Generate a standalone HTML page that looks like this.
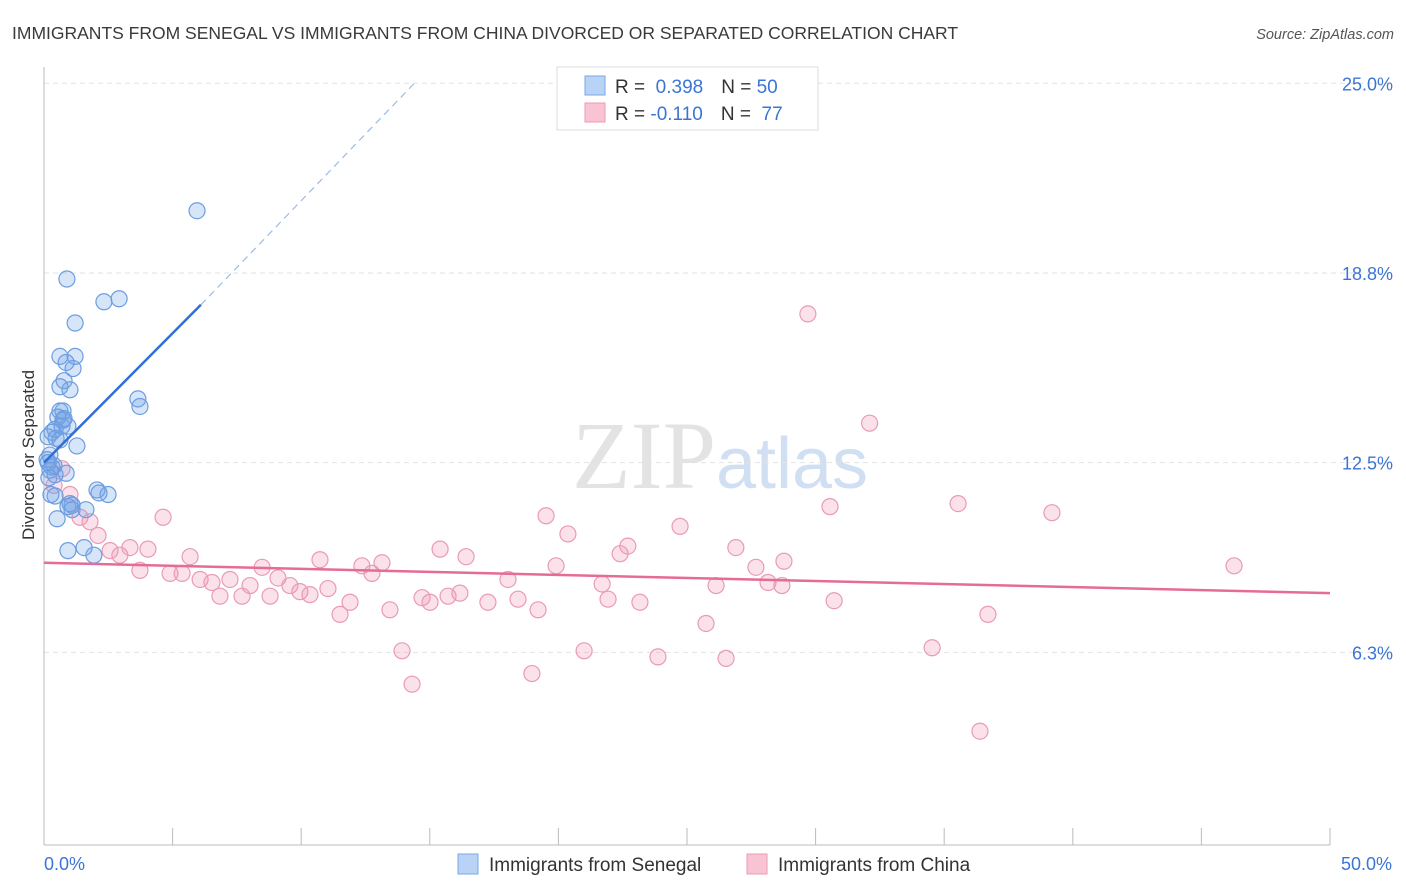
<!DOCTYPE html>
<html><head><meta charset="utf-8"><style>
body{margin:0;background:#fff;font-family:"Liberation Sans",sans-serif;}
svg{display:block}
</style></head><body>
<svg id="chart" width="1406" height="892" xmlns="http://www.w3.org/2000/svg">
<text x="12" y="39" font-size="17.5" fill="#3a3a3a">IMMIGRANTS FROM SENEGAL VS IMMIGRANTS FROM CHINA DIVORCED OR SEPARATED CORRELATION CHART</text>
<text x="1394" y="39" font-size="14.5" fill="#555" font-style="italic" text-anchor="end">Source: ZipAtlas.com</text>
<text x="720" y="488" font-size="96" text-anchor="middle" font-family="Liberation Serif,serif" fill="#ddd" opacity="0.8">ZIP<tspan fill="#c5d8ef" font-family="Liberation Sans,sans-serif" font-size="72">atlas</tspan></text>
<g id="grid"></g><g id="axes"></g><g id="marks"></g>
<text transform="translate(34,455) rotate(-90)" font-size="17" fill="#333" text-anchor="middle">Divorced or Separated</text>
<g>
<rect x="557" y="67" width="261" height="63" fill="#fff" stroke="#ddd"/>
<rect x="585" y="76" width="20" height="19" fill="#b8d3f5" stroke="#7aa7e3"/>
<rect x="585" y="103" width="20" height="19" fill="#f8c4d4" stroke="#ec9ab4"/>
<text x="615" y="93" font-size="19" fill="#333">R = <tspan fill="#3b75d4">&#160;0.398</tspan><tspan dx="18">N = </tspan><tspan fill="#3b75d4">50</tspan></text>
<text x="615" y="120" font-size="19" fill="#333">R = <tspan fill="#3b75d4">-0.110</tspan><tspan dx="18">N = </tspan><tspan fill="#3b75d4">&#160;77</tspan></text>
</g>
<g>
<rect x="458" y="854" width="20" height="20" fill="#b8d3f5" stroke="#7aa7e3"/>
<text x="489" y="871" font-size="19" fill="#333">Immigrants from Senegal</text>
<rect x="747" y="854" width="20" height="20" fill="#f8c4d4" stroke="#ec9ab4"/>
<text x="778" y="871" font-size="19" fill="#333">Immigrants from China</text>
</g>
</svg>
<script>
const yTicks=[6.25,12.5,18.75,25];
const yTickLabels=["6.3%","12.5%","18.8%","25.0%"];
const xTickLabels=["0.0%","50.0%"];
const blueX=[5.95,0.89,2.33,2.92,1.21,0.62,1.21,0.86,1.13,0.78,0.62,1.01,3.65,3.73,0.62,0.74,0.54,0.74,0.93,0.43,0.31,0.16,0.62,1.28,0.23,0.16,0.31,0.23,0.43,0.43,0.27,2.06,2.14,2.49,1.01,0.93,1.09,1.63,0.51,0.93,1.94,1.56,1.09,0.86,0.39,0.12,0.70,0.78,0.47,0.19];
const blueY=[20.8,18.55,17.8,17.9,17.1,16.0,16.0,15.8,15.6,15.2,15.0,14.9,14.6,14.35,14.2,14.2,14.0,13.9,13.7,13.6,13.5,13.35,13.25,13.05,12.75,12.5,12.35,12.25,12.1,11.4,11.45,11.6,11.5,11.45,11.15,11.05,11.1,10.95,10.65,9.6,9.45,9.7,10.95,12.15,12.4,12.6,13.7,13.95,13.3,12.0];
const pinkX=[29.7,32.1,0.70,1.01,0.39,1.40,1.79,2.10,4.63,2.57,2.95,3.34,4.04,3.73,4.90,5.37,5.68,6.07,6.53,6.84,7.23,7.70,8.01,8.48,8.79,9.10,9.56,9.95,10.34,10.73,11.04,11.51,11.90,12.36,12.75,13.14,13.45,13.92,14.31,14.70,15.01,15.40,15.71,16.17,16.41,17.26,18.04,18.43,19.21,19.52,19.91,20.37,21.0,18.97,21.7,21.93,22.4,22.7,23.17,23.87,24.73,25.74,26.13,26.52,26.9,27.68,28.15,28.77,28.69,30.72,30.56,34.53,35.54,36.39,36.7,39.19,46.27];
const pinkY=[17.4,13.8,12.3,11.45,11.75,10.7,10.55,10.1,10.7,9.6,9.45,9.7,9.65,8.95,8.85,8.85,9.4,8.65,8.55,8.1,8.65,8.1,8.45,9.05,8.1,8.7,8.45,8.25,8.15,9.3,8.35,7.5,7.9,9.1,8.85,9.2,7.65,6.3,5.2,8.05,7.9,9.65,8.1,8.2,9.4,7.9,8.65,8.0,7.65,10.75,9.1,10.15,6.3,5.55,8.5,8.0,9.5,9.75,7.9,6.1,10.4,7.2,8.45,6.05,9.7,9.05,8.55,9.25,8.45,7.95,11.05,6.4,11.15,3.65,7.5,10.85,9.1];
const blueTrend=[[0,12.5],[6.1,17.7]];
const blueTrendExt=[[6.1,17.7],[14.4,25.0]];
const pinkTrend=[[0,9.2],[50,8.2]];
const NS="http://www.w3.org/2000/svg";
const X=v=>44+25.72*v, Y=v=>842-30.35*v;
function mk(parent,tag,attrs){const e=document.createElementNS(NS,tag);for(const k in attrs)e.setAttribute(k,attrs[k]);document.getElementById(parent).appendChild(e);return e;}
yTicks.forEach((t,i)=>{
 const l=mk('grid','line',{x1:44,x2:1392,y1:Y(t),y2:Y(t),stroke:'#e2e2e2','stroke-dasharray':'5,4'});
 
 
 const tx=mk('axes','text',{x:1393,y:Y(t)+7,'font-size':18,fill:'#3b75d4','text-anchor':'end'});
 tx.textContent=yTickLabels[i];
 
 
});
const ax=mk('axes','line',{x1:44,x2:44,y1:67,y2:845,stroke:'#bbb'});


const bx=mk('axes','line',{x1:44,x2:1330,y1:845,y2:845,stroke:'#bbb'});


for(let i=0;i<=10;i++){
 const t=mk('axes','line',{x1:X(i*5),x2:X(i*5),y1:828,y2:845,stroke:'#bbb'});
 
 
}
[[X(0),'start'],[X(50)+62,'end']].forEach((p,i)=>{
 const tx=mk('axes','text',{x:p[0],y:870,'font-size':18,fill:'#3b75d4','text-anchor':p[1]});
 tx.textContent=xTickLabels[i];
 
 
});
function dots(xs,ys,fill,stroke,name){
 xs.forEach((x,i)=>{const c=mk('marks','circle',{cx:X(x),cy:Y(ys[i]),r:8,fill:fill,stroke:stroke,'stroke-width':1.2});
 
 });
}
dots(pinkX,pinkY,'rgba(242,150,180,0.28)','#e99ab6','china-point');
dots(blueX,blueY,'rgba(110,160,230,0.28)','#6c9de0','senegal-point');
function line(p,stroke,w,dash,name){const l=mk('marks','line',{x1:X(p[0][0]),y1:Y(p[0][1]),x2:X(p[1][0]),y2:Y(p[1][1]),stroke:stroke,'stroke-width':w});
 if(dash)l.setAttribute('stroke-dasharray',dash);
 
 }
line(pinkTrend,'#e56b98',2.5,null,'china-trend-line');
line(blueTrend,'#2f6fd6',2.5,null,'senegal-trend-line');
line(blueTrendExt,'#9cbbe6',1.2,'7,5','senegal-trend-extension');
</script>
</body></html>
